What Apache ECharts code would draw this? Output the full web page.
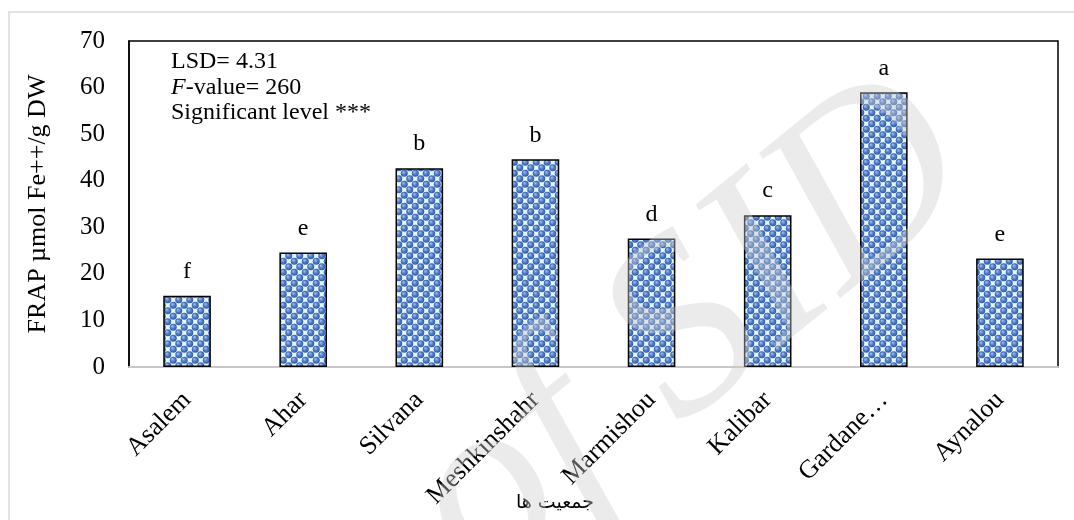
<!DOCTYPE html>
<html>
<head>
<meta charset="utf-8">
<script src="https://cdn.jsdelivr.net/npm/echarts@6/dist/echarts.min.js"></script>
<style>
html,body{margin:0;padding:0;background:#fff;}
#main{width:1074px;height:520px;}
</style>
</head>
<body>
<div id="main"></div>
<script>
const categories = ['Asalem','Ahar','Silvana','Meshkinshahr','Marmishou','Kalibar','Gardane…','Aynalou'];
const values = [15.3, 24.6, 42.7, 44.6, 27.6, 32.6, 59.0, 23.3];
const letters = ['f','e','b','b','d','c','a','e'];
const yTicks = [0,10,20,30,40,50,60,70];

function makePattern(){
  const s = 11;
  const c = document.createElement('canvas');
  c.width = s; c.height = s;
  const g = c.getContext('2d');
  g.fillStyle = '#e2f6fd';
  g.fillRect(0,0,s,s);
  const h = s/2, q = s/4;
  const pts = [];
  for (let i=-1;i<=1;i++) for (let j=-1;j<=1;j++){
    pts.push([q+i*s, q+j*s]);
    pts.push([q+h+i*s, q+h+j*s]);
  }
  pts.forEach(p=>{
    const grd = g.createRadialGradient(p[0]-1,p[1]-1.2,0.3,p[0],p[1],3.8);
    grd.addColorStop(0,'#9dbce8');
    grd.addColorStop(0.5,'#4f79c4');
    grd.addColorStop(1,'#2d57a6');
    g.fillStyle = grd;
    g.beginPath(); g.arc(p[0],p[1],3.5,0,Math.PI*2); g.fill();
  });
  return c;
}

const chart = echarts.init(document.getElementById('main'));
const serif = 'Liberation Serif';
chart.setOption({
  animation:false,
  grid:{left:129,right:16,top:41,bottom:153,show:true,borderColor:'#000',borderWidth:1.5,containLabel:false},
  xAxis:{
    type:'category',data:categories,
    axisLine:{show:true,lineStyle:{color:'#c8c8c8',width:2}},
    axisTick:{show:false},
    axisLabel:{rotate:45,color:'#000',fontFamily:serif,fontSize:26,margin:29,interval:0}
  },
  yAxis:{
    type:'value',min:0,max:70,interval:10,
    name:'FRAP µmol Fe++/g DW',nameLocation:'middle',nameGap:78,nameRotate:90,
    nameTextStyle:{color:'#000',fontFamily:serif,fontSize:26},
    axisLine:{show:true,lineStyle:{color:'#000',width:1.5}},
    axisTick:{show:false},
    splitLine:{show:false},
    axisLabel:{color:'#000',fontFamily:serif,fontSize:25,margin:24,
      formatter:v=>yTicks.includes(v)?String(v):''}
  },
  series:[{
    type:'bar',data:values,barWidth:'41%',
    itemStyle:{color:{image:makePattern(),repeat:'repeat'},borderColor:'#000',borderWidth:1.5},
    label:{show:true,position:'top',distance:12,color:'#000',fontFamily:serif,fontSize:24,
      formatter:p=>letters[p.dataIndex]}
  }],
  graphic:[
    {type:'rect',shape:{x:9,y:12,width:1080,height:520},style:{fill:'none',stroke:'#d9d9d9',lineWidth:1.5},z:-1},
    {type:'text',left:171,top:50,style:{text:'LSD= 4.31',font:'24px "Liberation Serif"',fill:'#000'}},
    {type:'text',left:171,top:76,style:{text:'{i|F}-value= 260',font:'24px "Liberation Serif"',fill:'#000',
      rich:{i:{fontStyle:'italic',fontFamily:serif,fontSize:24}}}},
    {type:'text',left:171,top:101,style:{text:'Significant level ***',font:'24px "Liberation Serif"',fill:'#000'}},
    {type:'text',x:555,y:503,style:{text:'جمعیت ها',font:'19px "DejaVu Sans"',fill:'#000',align:'center',verticalAlign:'middle'}},
    {type:'text',x:690,y:335,rotation:0.68,z:100,
      style:{text:'of SID',font:'italic 250px "Liberation Serif"',fill:'rgba(205,205,205,0.4)',align:'center',verticalAlign:'middle'}}
  ]
});
</script>
</body>
</html>
